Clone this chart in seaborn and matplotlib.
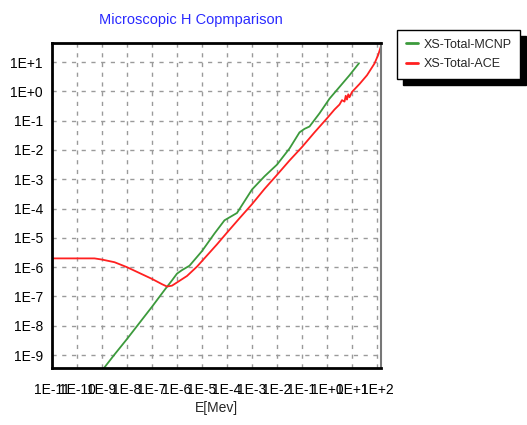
"""
Microscopic H comparison: XS-Total MCNP vs ACE (log-log)
"""
import numpy as np
import pandas as pd
import matplotlib
matplotlib.use("Agg")
import matplotlib.pyplot as plt
import matplotlib.ticker as mticker
import seaborn as sns

# ──────────────────────────────────────────────
# Data (log10 values)
# ──────────────────────────────────────────────
MCNP_LOGE  = [-9.05, -8.92, -8.5, -8.0, -7.5, -7.0, -6.5, -6.2, -6.0, -5.8, -5.5,
              -5.0, -4.5, -4.1, -3.9, -3.6, -3.0, -2.5, -2.0, -1.5, -1.1, -0.9,
              -0.7, -0.3, 0.1, 0.5, 0.9, 1.28]
MCNP_LOGXS = [-9.6, -9.44, -8.98, -8.45, -7.90, -7.35, -6.78, -6.45, -6.22, -6.10, -5.95,
              -5.45, -4.85, -4.40, -4.30, -4.15, -3.35, -2.90, -2.50, -1.95, -1.40, -1.28,
              -1.20, -0.75, -0.25, 0.15, 0.55, 0.96]

ACE_LOGE   = [-11.0, -10.0, -9.3, -9.0, -8.5, -8.0, -7.5, -7.0, -6.6, -6.4, -6.2,
              -6.0, -5.6, -5.2, -4.8, -4.4, -4.0, -3.5, -3.0, -2.5, -2.0, -1.5,
              -1.0, -0.5, 0.0, 0.3, 0.5, 0.6, 0.7, 0.75, 0.8, 0.85, 0.9, 1.0,
              1.3, 1.6, 1.9, 2.05, 2.2]
ACE_LOGXS  = [-5.70, -5.70, -5.70, -5.74, -5.83, -6.00, -6.20, -6.40, -6.58, -6.66, -6.63,
              -6.52, -6.30, -5.98, -5.60, -5.22, -4.82, -4.33, -3.85, -3.33, -2.85, -2.36,
              -1.90, -1.40, -0.92, -0.62, -0.45, -0.30, -0.35, -0.15, -0.28, -0.10, -0.20, -0.02,
              0.25, 0.55, 0.95, 1.25, 1.65]

SERIES     = ["XS-Total-MCNP", "XS-Total-ACE"]
COLORS     = ["#3c9a3c", "#ff2020"]
X_DECADES  = list(range(-11, 3))
Y_DECADES  = list(range(-9, 2))

df = pd.concat([
    pd.DataFrame({"E": np.power(10.0, MCNP_LOGE), "XS": np.power(10.0, MCNP_LOGXS),
                  "series": SERIES[0]}),
    pd.DataFrame({"E": np.power(10.0, ACE_LOGE), "XS": np.power(10.0, ACE_LOGXS),
                  "series": SERIES[1]}),
], ignore_index=True)

# ──────────────────────────────────────────────
# Plot
# ──────────────────────────────────────────────
sns.set_style("white")
plt.rcParams["font.family"] = ["Liberation Sans", "DejaVu Sans"]

fig = plt.figure(figsize=(5.27, 4.25), dpi=100)
ax = fig.add_axes([52/527, 1 - 368/425, (381 - 52)/527, (368 - 43)/425])

sns.lineplot(data=df, x="E", y="XS", hue="series", palette=COLORS,
             hue_order=SERIES, sort=False, estimator=None, linewidth=1.3,
             ax=ax, legend=False)

ax.set_xscale("log")
ax.set_yscale("log")
ax.set_xlim(1e-11, 10**2.16)
ax.set_ylim(10**-9.44, 10**1.65)

ax.xaxis.set_major_locator(mticker.FixedLocator([10.0**d for d in X_DECADES]))
ax.set_xticklabels([f"1E{d:+d}" if d >= 0 else f"1E{d}" for d in X_DECADES])
ax.xaxis.set_minor_locator(mticker.LogLocator(base=10, subs=(3.0, 6.0), numticks=30))
ax.xaxis.set_minor_formatter(mticker.NullFormatter())
ax.yaxis.set_major_locator(mticker.FixedLocator([10.0**d for d in Y_DECADES]))
ax.set_yticklabels([f"1E{d:+d}" if d >= 0 else f"1E{d}" for d in Y_DECADES])
ax.yaxis.set_minor_locator(mticker.NullLocator())

ax.tick_params(axis="both", which="major", labelsize=10, colors="#888888",
               labelcolor="black", length=3)
ax.tick_params(axis="x", which="major", pad=6, direction="out", length=5, color="#555555")
ax.tick_params(axis="x", which="minor", length=3, color="#555555", direction="out")

ax.grid(True, which="major", linestyle=(0, (3, 4)), color="#9a9a9a", linewidth=1)
for side in ["left", "bottom", "top"]:
    ax.spines[side].set_color("black")
    ax.spines[side].set_linewidth(2)
ax.spines["right"].set_color("#777777")
ax.spines["right"].set_linewidth(1.5)

ax.set_xlabel("E[Mev]", fontsize=10, labelpad=3)
ax.set_ylabel("")

fig.text(191/527, 1 - 20/425, "Microscopic H Copmparison", color="#2a2aff",
         fontsize=10.5, ha="center", va="center")

handles = [plt.Line2D([], [], color=c, linewidth=2) for c in COLORS]
leg = fig.legend(handles, SERIES, loc="upper left",
                 bbox_to_anchor=(397/527, 1 - 30/425), fontsize=9,
                 frameon=True, fancybox=False, handlelength=1.0,
                 handletextpad=0.4, borderpad=0.7, labelspacing=0.6,
                 borderaxespad=0.0,
                 shadow={"color": "black", "alpha": 1.0, "ox": 4, "oy": -4})
leg.get_frame().set_edgecolor("black")
leg.get_frame().set_linewidth(1)

plt.savefig("out.png", dpi=100)
